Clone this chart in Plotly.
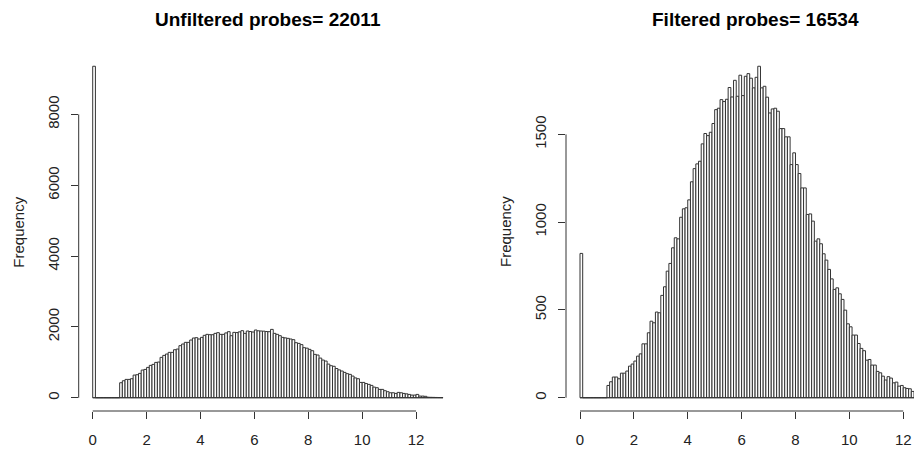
import plotly.graph_objects as go

# ---------------- data (histogram counts, bin width 0.1 starting at 0) ----------------
bin_width = 0.1
bin_start = 0.0

unfiltered_counts = [
    9360, 0, 0, 0, 0, 0, 0, 0, 0, 0,
    424, 480, 518, 518, 537, 640, 650, 688, 782, 800,
    857, 914, 942, 998, 1008, 1140, 1196, 1234, 1281, 1281,
    1356, 1375, 1470, 1517, 1564, 1564, 1630, 1686, 1696, 1658,
    1705, 1762, 1790, 1780, 1780, 1818, 1837, 1790, 1790, 1830,
    1865, 1752, 1846, 1840, 1860, 1893, 1818, 1884, 1870, 1856,
    1912, 1890, 1884, 1880, 1870, 1865, 1930, 1818, 1790, 1752,
    1705, 1690, 1677, 1658, 1640, 1554, 1535, 1500, 1413, 1400,
    1366, 1328, 1225, 1206, 1120, 1064, 1036, 950, 904, 888,
    825, 786, 754, 716, 680, 660, 612, 560, 537, 433,
    433, 400, 377, 349, 300, 283, 236, 236, 198, 170,
    141, 141, 122, 151, 140, 122, 110, 94, 75, 75,
    94, 47, 47, 40, 15, 12, 10, 8, 6, 5,
]

filtered_counts = [
    822, 0, 0, 0, 0, 0, 0, 0, 0, 0,
    70, 91, 118, 118, 108, 140, 140, 152, 180, 192,
    209, 237, 250, 307, 307, 370, 436, 427, 488, 484,
    583, 632, 721, 765, 854, 911, 905, 1028, 1076, 1082,
    1127, 1230, 1305, 1332, 1347, 1446, 1505, 1493, 1512, 1562,
    1641, 1649, 1698, 1687, 1700, 1767, 1713, 1808, 1717, 1837,
    1721, 1831, 1846, 1820, 1765, 1825, 1888, 1765, 1774, 1712,
    1622, 1645, 1649, 1632, 1533, 1533, 1486, 1486, 1328, 1395,
    1328, 1277, 1195, 1195, 1044, 1047, 1006, 892, 905, 877,
    820, 784, 731, 677, 617, 626, 592, 560, 499, 421,
    404, 357, 357, 309, 281, 268, 214, 218, 186, 186,
    150, 142, 123, 101, 120, 112, 85, 89, 66, 70,
    57, 53, 51, 36,
]

titles = ["Unfiltered probes= 22011", "Filtered probes= 16534"]
y_label = "Frequency"
x_ticks = [0, 2, 4, 6, 8, 10, 12]
y_ticks_left = [0, 2000, 4000, 6000, 8000]
y_ticks_right = [0, 500, 1000, 1500]

# ---------------- layout geometry (pixels) ----------------
W, H = 914, 452
LINE = "#333333"
TEXT = "#222222"
FONT = "Liberation Sans, Arial, sans-serif"

def fx(px):
    return px / W

def fy(py):
    return 1 - py / H

plot_top, plot_bottom = 53, 411
panels = [
    dict(counts=unfiltered_counts, xdom=(78.7, 457.0), xmax_range=13.52, yticks=y_ticks_left),
    dict(counts=filtered_counts, xdom=(566.0, 914.0), xmax_range=12.40, yticks=y_ticks_right),
]

fig = go.Figure()
shapes = []
annotations = []

for i, p in enumerate(panels):
    counts = p["counts"]
    n = len(counts)
    centers = [bin_start + bin_width * (k + 0.5) for k in range(n)]
    xa = "x" if i == 0 else "x2"
    ya = "y" if i == 0 else "y2"
    fig.add_trace(go.Bar(
        x=centers, y=counts, width=bin_width,
        marker=dict(color="white", line=dict(color=LINE, width=1)),
        xaxis=xa, yaxis=ya, showlegend=False, hoverinfo="skip",
    ))
    # baseline of the (empty) bins along the histogram range
    fig.add_trace(go.Scatter(
        x=[bin_start, bin_start + bin_width * n], y=[0, 0], mode="lines",
        line=dict(color=LINE, width=1), xaxis=xa, yaxis=ya,
        showlegend=False, hoverinfo="skip",
    ))
    m = max(counts)
    xr = [-0.52, p["xmax_range"]]
    yr = [-0.04 * m, 1.04 * m]
    axis_common = dict(showgrid=False, zeroline=False, showline=False,
                       ticks="outside", ticklen=7, tickwidth=1, tickcolor=LINE,
                       tickfont=dict(family=FONT, size=15, color=TEXT))
    sfx = "" if i == 0 else "2"
    fig.update_layout(**{
        "xaxis" + sfx: dict(domain=[fx(p["xdom"][0]), fx(p["xdom"][1])], range=xr,
                            anchor=ya, tickvals=x_ticks, ticktext=[str(t) for t in x_ticks],
                            ticklabelstandoff=8, **axis_common),
        "yaxis" + sfx: dict(domain=[fy(plot_bottom), fy(plot_top)], range=yr,
                            anchor=xa, tickvals=p["yticks"], ticktext=[str(t) for t in p["yticks"]],
                            tickangle=-90, ticklabelstandoff=6, **axis_common),
    })
    # R-style axis lines spanning first to last tick
    shapes.append(dict(type="line", xref=xa, yref=ya + " domain", x0=x_ticks[0], x1=x_ticks[-1],
                       y0=0, y1=0, line=dict(color=LINE, width=1)))
    shapes.append(dict(type="line", xref=xa + " domain", yref=ya, x0=0, x1=0,
                       y0=p["yticks"][0], y1=p["yticks"][-1], line=dict(color=LINE, width=1)))
    # title
    annotations.append(dict(text="<b>" + titles[i] + "</b>", xref="paper", yref="paper",
                            x=fx((p["xdom"][0] + (p["xdom"][0] + 378.3)) / 2), y=fy(19),
                            xanchor="center", yanchor="middle", showarrow=False,
                            font=dict(family=FONT, size=19, color="black")))
    # y label
    annotations.append(dict(text=y_label, xref="paper", yref="paper",
                            x=fx(p["xdom"][0] - 61), y=fy((plot_top + plot_bottom) / 2),
                            xanchor="center", yanchor="middle", textangle=-90, showarrow=False,
                            font=dict(family=FONT, size=15, color=TEXT)))

fig.update_layout(
    width=W, height=H, margin=dict(l=0, r=0, t=0, b=0),
    paper_bgcolor="white", plot_bgcolor="white",
    bargap=0, shapes=shapes, annotations=annotations, showlegend=False,
)

fig.write_html("out.html", config={"displayModeBar": False, "staticPlot": True},
               post_script="document.body.style.margin='0';document.body.style.overflow='hidden';")
